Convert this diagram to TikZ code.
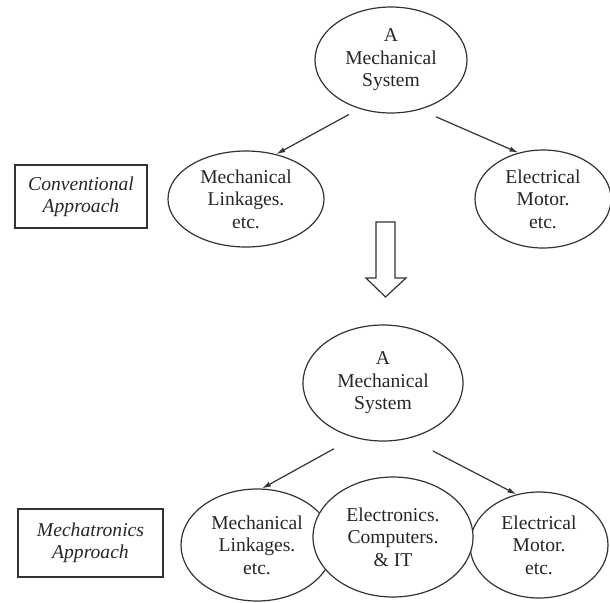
\documentclass[tikz,border=0pt]{standalone}
\usepackage{fontspec}
\setmainfont{Liberation Serif}
\usepackage{tikz}
\usetikzlibrary{arrows.meta}
\usetikzlibrary{shapes.geometric}

\tikzset{
	blob/.style={ellipse, draw=black!80, line width=0.6pt, inner sep=0pt, align=center,
		text=black!85, font=\fontsize{9.8}{11.2}\selectfont},
	tagbox/.style={rectangle, draw=black!80, line width=0.6pt, inner sep=0pt, align=center,
		text=black!85, font=\fontsize{9.8}{11.2}\selectfont\itshape},
	link/.style={draw=black!80, line width=0.6pt, -{Latex[length=4.5pt,width=2.6pt]}}
}

\begin{document}
\begin{tikzpicture}[x=0.5pt,y=-0.5pt]
	\useasboundingbox (0,0) rectangle (610,602);
	
	\node[blob, minimum width=76pt, minimum height=53pt] at (391,60) (sysA) {A\\Mechanical\\System};
	\node[blob, minimum width=78pt, minimum height=48pt] at (246,199) (linkA) {Mechanical\\Linkages.\\etc.};
	\node[blob, minimum width=68pt, minimum height=49pt] at (543,199) (motA) {Electrical\\Motor.\\etc.};
	\node[tagbox, minimum width=66pt, minimum height=31.5pt] at (81,196.5) (conv) {Conventional\\Approach};
	
	\draw[link, shorten <=6pt] (sysA.237) -- (linkA.56);
	\draw[link, shorten <=9pt] (sysA.300) -- (motA.118);
	
	\draw[draw=black!80, line width=0.6pt, fill=white] (376,222) -- (395,222) -- (395,278) -- (406,278)
		-- (385.5,297) -- (366,278) -- (376,278) -- cycle;
	
	\node[blob, minimum width=80pt, minimum height=58pt] at (383,383) (sysB) {A\\Mechanical\\System};
	\node[blob, minimum width=76pt, minimum height=56pt] at (257,545) (linkB) {Mechanical\\Linkages.\\etc.};
	\node[blob, minimum width=69pt, minimum height=53pt] at (539,545) (motB) {Electrical\\Motor.\\etc.};
	\node[blob, fill=white, minimum width=80pt, minimum height=60pt] at (393,537) (elec) {Electronics.\\Computers.\\\& IT};
	\node[tagbox, minimum width=72.5pt, minimum height=34pt] at (90.5,543) (mech) {Mechatronics\\Approach};
	
	\draw[link, shorten <=11.5pt] (sysB.242) -- (linkB.85);
	\draw[link, shorten <=13.5pt] (sysB.295) -- (motB.114);
\end{tikzpicture}
\end{document}
